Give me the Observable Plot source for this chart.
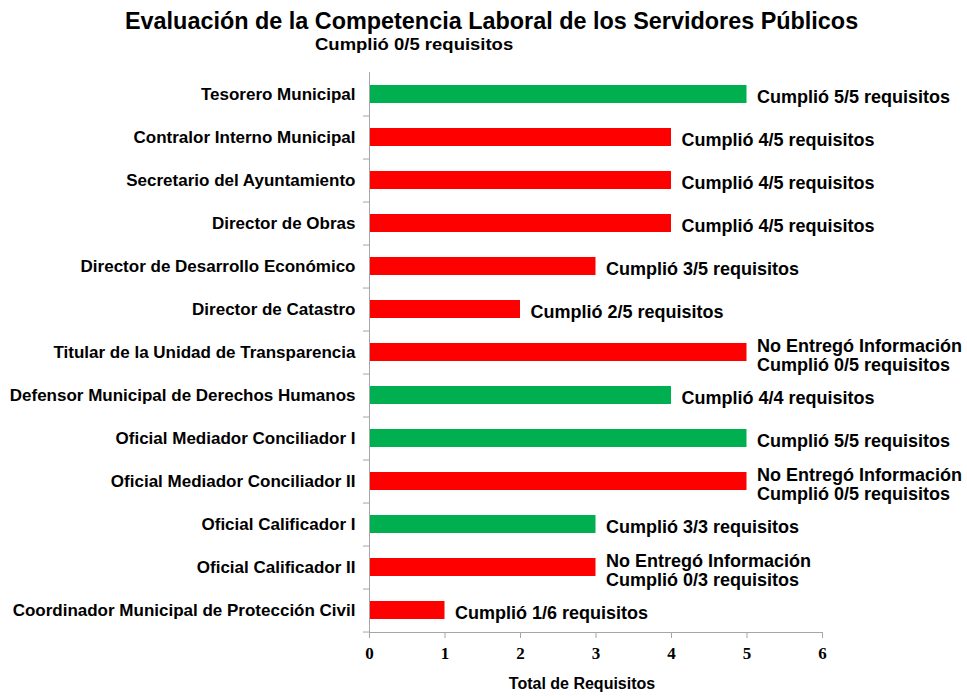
<!DOCTYPE html>
<html>
<head>
<meta charset="utf-8">
<script src="https://cdn.jsdelivr.net/npm/d3@7"></script>
<script src="https://cdn.jsdelivr.net/npm/@observablehq/plot@0.6"></script>
<style>
  body { margin: 0; background: #fff; font-family: "Liberation Sans", Arial, sans-serif; }
  #head { position: relative; width: 967px; height: 56px; }
  #title { position: absolute; left: 125px; top: 10px; font-size: 23.4px; line-height: 1; font-weight: bold; color: #000; white-space: nowrap; }
  #subtitle { position: absolute; left: 315px; top: 36px; font-size: 16.5px; line-height: 1; font-weight: bold; color: #000; white-space: nowrap; transform: scaleX(1.12); transform-origin: left center; }
</style>
</head>
<body>
<div id="head">
  <div id="title">Evaluación de la Competencia Laboral de los Servidores Públicos</div>
  <div id="subtitle">Cumplió 0/5 requisitos</div>
</div>
<div id="chart"></div>
<script>
const categories = [
  "Tesorero Municipal",
  "Contralor Interno Municipal",
  "Secretario del Ayuntamiento",
  "Director de Obras",
  "Director de Desarrollo Económico",
  "Director de Catastro",
  "Titular de la Unidad de Transparencia",
  "Defensor Municipal de Derechos Humanos",
  "Oficial Mediador Conciliador I",
  "Oficial Mediador Conciliador II",
  "Oficial Calificador I",
  "Oficial Calificador II",
  "Coordinador Municipal de Protección Civil"
];
const values = [5, 4, 4, 4, 3, 2, 5, 4, 5, 5, 3, 3, 1];
const status = ["Cumplió", "No cumplió", "No cumplió", "No cumplió", "No cumplió", "No cumplió", "No cumplió", "Cumplió", "Cumplió", "No cumplió", "Cumplió", "No cumplió", "No cumplió"];
const barLabels = [
  "Cumplió 5/5 requisitos",
  "Cumplió 4/5 requisitos",
  "Cumplió 4/5 requisitos",
  "Cumplió 4/5 requisitos",
  "Cumplió 3/5 requisitos",
  "Cumplió 2/5 requisitos",
  "No Entregó Información\nCumplió 0/5 requisitos",
  "Cumplió 4/4 requisitos",
  "Cumplió 5/5 requisitos",
  "No Entregó Información\nCumplió 0/5 requisitos",
  "Cumplió 3/3 requisitos",
  "No Entregó Información\nCumplió 0/3 requisitos",
  "Cumplió 1/6 requisitos"
];
const xTicks = [0, 1, 2, 3, 4, 5, 6];

const data = categories.map((c, i) => ({cat: c, value: values[i], status: status[i], label: barLabels[i]}));
const single = data.filter(d => !d.label.includes("\n"));
const multi = data.filter(d => d.label.includes("\n"));

const H = 640, MT = 16, MB = 64;
const step = (H - MT - MB) / categories.length;
const grey = "#a6a6a6";
const font = "Liberation Sans, Arial, sans-serif";

const chart = Plot.plot({
  width: 967,
  height: H,
  marginLeft: 369,
  marginRight: 145,
  marginTop: MT,
  marginBottom: MB,
  style: {fontFamily: font, fontWeight: "bold", color: "#000", background: "#fff", overflow: "visible"},
  x: {domain: [0, 6]},
  y: {domain: categories, paddingInner: 0.58, paddingOuter: 0.29},
  color: {domain: ["Cumplió", "No cumplió"], range: ["#00b050", "#ff0000"]},
  marks: [
    Plot.barX(data, {x: "value", y: "cat", fill: "status"}),
    Plot.frame({anchor: "left", stroke: grey}),
    Plot.frame({anchor: "bottom", stroke: grey}),
    Plot.axisX({ticks: xTicks, tickFormat: d3.format("d"), tickSize: 6, tickPadding: 8, stroke: grey, fill: "#000",
      fontFamily: "Liberation Serif, Times New Roman, serif", fontSize: 17, fontWeight: "bold", label: null}),
    Plot.axisY({tickSize: 0, tickPadding: 14, fill: "#000", fontSize: 17, fontWeight: "bold", label: null}),
    Plot.axisY({tickSize: 6, text: null, dy: step / 2, stroke: grey, label: null}),
    Plot.text(single, {x: "value", y: "cat", text: "label", dx: 10, dy: 3, textAnchor: "start", fontSize: 18, fontWeight: "bold", fill: "#000"}),
    Plot.text(multi, {x: "value", y: "cat", text: "label", dx: 10, dy: 2.5, textAnchor: "start", fontSize: 18, lineHeight: 1.06, fontWeight: "bold", fill: "#000"}),
    Plot.text(["Total de Requisitos"], {frameAnchor: "bottom", dx: -14, dy: 56, fontSize: 16, fontWeight: "bold", fill: "#000"})
  ]
});
document.getElementById("chart").appendChild(chart);
</script>
</body>
</html>
